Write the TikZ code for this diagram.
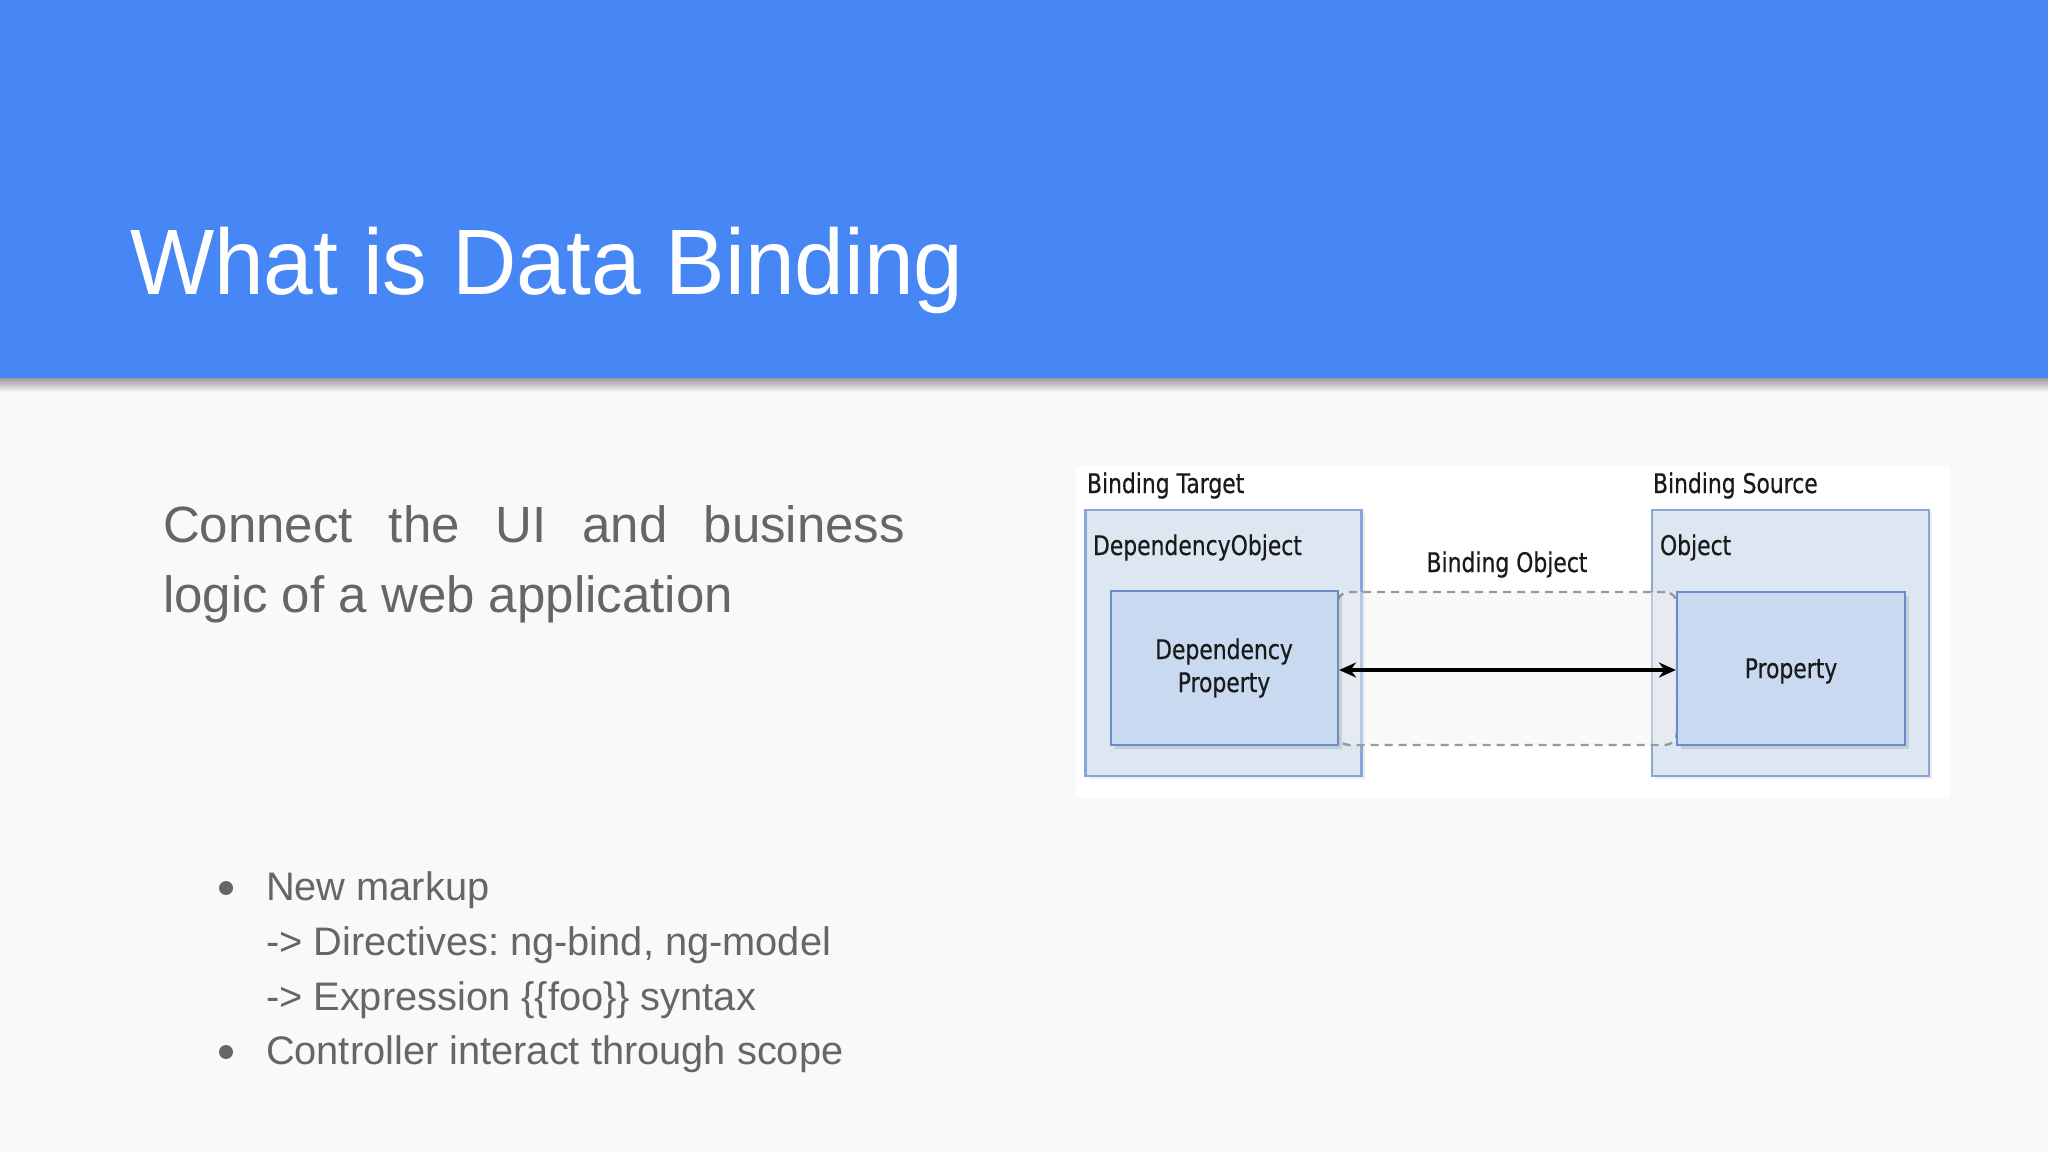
\documentclass[tikz,border=0pt]{standalone}
\usepackage{fontspec}
\usetikzlibrary{shadows,arrows.meta}
\frenchspacing
\newfontfamily\titlefont[FakeStretch=0.96]{Liberation Sans}
\newfontfamily\bodyfont{Liberation Sans}
\newfontfamily\dgfont[FakeStretch=0.81,FakeBold=0.5]{DejaVu Sans}
\definecolor{banner}{HTML}{4786F5}
\definecolor{slidebg}{HTML}{F9F8FB}
\definecolor{bodygray}{HTML}{666666}
\definecolor{outerfill}{HTML}{DDE7F2}
\definecolor{outerdraw}{HTML}{8AA5D8}
\definecolor{innerfill}{HTML}{C9DAF0}
\definecolor{innerdraw}{HTML}{6A8BCA}
\definecolor{dgtext}{HTML}{1A1A1A}
\tikzset{
  txt/.style={anchor=base west, inner sep=0pt, outer sep=0pt},
  bodytxt/.style={txt, text=bodygray, font=\bodyfont\fontsize{51}{60}\selectfont},
  bultxt/.style={txt, text=bodygray, font=\bodyfont\fontsize{39.8}{48}\selectfont},
  dgtxt/.style={inner sep=0pt, outer sep=0pt, text=dgtext, font=\dgfont\fontsize{27}{35}\selectfont},
  outerbox/.style={draw=outerdraw, line width=2.2pt, fill=outerfill, minimum width=276pt, minimum height=266pt, inner sep=0pt,
     drop shadow={opacity=0.15, shadow xshift=3pt, shadow yshift=-3pt}},
  innerbox/.style={draw=innerdraw, line width=2.2pt, fill=innerfill, minimum width=227pt, minimum height=154pt, inner sep=0pt,
     drop shadow={opacity=0.25, shadow xshift=4pt, shadow yshift=-4pt}},
  bindbox/.style={draw=gray!80, dashed, dash pattern=on 8pt off 6pt, line width=2.4pt, rounded corners=12pt,
     fill=gray!10, fill opacity=0.45, minimum width=340pt, minimum height=153pt, inner sep=0pt},
  bullet/.style={circle, fill=bodygray, inner sep=0pt, minimum size=14pt}
}
\begin{document}
\begin{tikzpicture}[x=1pt,y=-1pt]
\useasboundingbox (0,0) rectangle (2048,1152);
% background
\fill[slidebg] (0,0) rectangle (2048,1152);
\shade[top color=black!40!slidebg, bottom color=slidebg] (0,377) rectangle (2048,392);
\fill[banner] (0,0) rectangle (2048,378);
\node[txt, text=white, font=\titlefont\fontsize{93}{100}\selectfont] (title) at (130,294) {What is Data Binding};

% paragraph
\node[bodytxt] (para1) at (163,542) {\makebox[742pt][s]{Connect\hfill the\hfill UI\hfill and\hfill business}};
\node[bodytxt] (para2) at (163,612) {logic of a web application};

% bullets
\node[bullet] (b1) at (226,888) {};
\node[bultxt] (l1) at (266,900) {New markup};
\node[bultxt] (l2) at (266,955) {-> Directives: ng-bind, ng-model};
\node[bultxt] (l3) at (266,1010) {-> Expression \{\{foo\}\} syntax};
\node[bullet] (b2) at (226,1052) {};
\node[bultxt] (l4) at (266,1064) {Controller interact through scope};

% diagram
\fill[white] (1076,466) rectangle (1950,798);
\node[outerbox] (outL) at (1223.5,643) {};
\node[outerbox, minimum width=277pt] (outR) at (1790.5,643) {};
\node[bindbox] (bobj) at (1507,668.5) {};
\node[innerbox] (inL) at (1224.5,668) {};
\node[innerbox, minimum width=228pt, minimum height=153pt] (inR) at (1791,668.5) {};

\node[dgtxt, anchor=base west] (tgt) at (1087,493) {Binding Target};
\node[dgtxt, anchor=base west] (src) at (1653,493) {Binding Source};
\node[dgtxt, anchor=base west] (dobj) at (1093,555) {DependencyObject};
\node[dgtxt, anchor=base west] (obj) at (1660,555) {Object};
\node[dgtxt, anchor=base] (bobjlbl) at (1507,572) {Binding Object};
\node[dgtxt, anchor=base] (dp1) at (1224,659) {Dependency};
\node[dgtxt, anchor=base] (dp2) at (1224,692) {Property};
\node[dgtxt, anchor=base] (prop) at (1791,678) {Property};

\draw[line width=3.6pt, {Stealth[length=17pt,width=15pt]}-{Stealth[length=17pt,width=15pt]}] (inL.east |- 0,670) -- (inR.west |- 0,670);
\end{tikzpicture}
\end{document}
